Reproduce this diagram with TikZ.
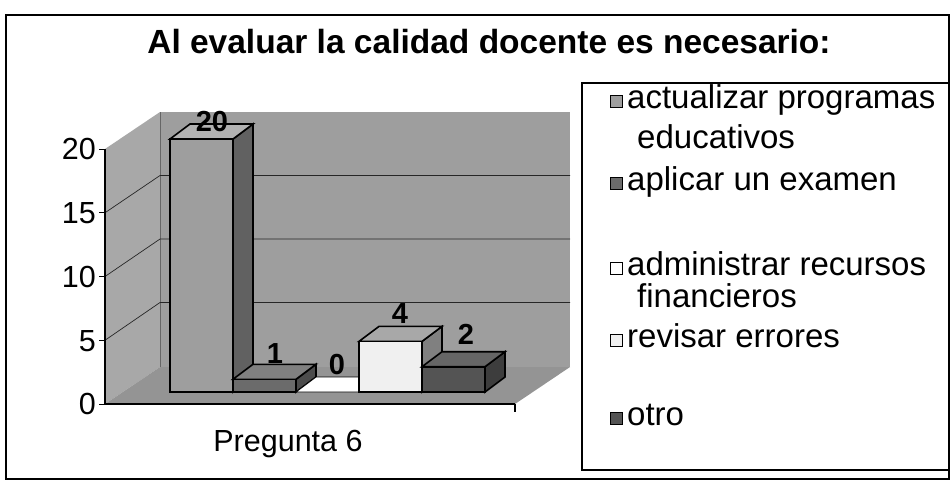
\documentclass[tikz,border=0pt]{standalone}
\usepackage{fontspec}
\setmainfont{Liberation Sans}
\definecolor{wallc}{gray}{0.62}
\definecolor{floorc}{gray}{0.58}
\definecolor{leftwc}{gray}{0.66}
\definecolor{bOneF}{gray}{0.62}
\definecolor{bOneT}{gray}{0.7}
\definecolor{bOneS}{gray}{0.38}
\definecolor{bTwoF}{gray}{0.42}
\definecolor{bTwoT}{gray}{0.5}
\definecolor{bTwoS}{gray}{0.3}
\definecolor{bFourF}{gray}{0.94}
\definecolor{bFourT}{gray}{0.66}
\definecolor{bFourS}{gray}{0.5}
\definecolor{bFiveF}{gray}{0.33}
\definecolor{bFiveT}{gray}{0.4}
\definecolor{bFiveS}{gray}{0.24}
\newcommand{\cubebar}[5]{%
  \filldraw[barline,fill=#5] ({#1+63},392) -- ({#1+83},377) -- ({#1+83},{#2-15}) -- ({#1+63},#2) -- cycle;
  \filldraw[barline,fill=#4] (#1,#2) -- ({#1+63},#2) -- ({#1+83},{#2-15}) -- ({#1+20},{#2-15}) -- cycle;
  \filldraw[barline,fill=#3] (#1,#2) rectangle ({#1+63},392);
}
\begin{document}
\begin{tikzpicture}[x=1pt,y=-1pt,
  barline/.style={draw=black,line width=1.6pt,line join=miter},
  grid/.style={draw=black!85,line width=0.7pt},
  axlab/.style={anchor=base east,inner sep=0pt,font=\fontsize{30.5}{34}\selectfont},
  vlab/.style={anchor=base,inner sep=0pt,font=\bfseries\fontsize{29}{32}\selectfont},
  legtext/.style={anchor=base west,inner sep=0pt,font=\fontsize{33}{37}\selectfont},
  swatch/.style={draw=black,line width=0.8pt}]
\useasboundingbox (0,0) rectangle (952,485);
\fill[white] (0,0) rectangle (952,485);
% outer frame
\draw[line width=1.2pt] (6,15) rectangle (949,479);
% title
\node[anchor=base,inner sep=0pt,font=\bfseries\fontsize{33.5}{37}\selectfont] (title) at (489,53) {Al evaluar la calidad docente es necesario:};
% walls
\fill[wallc] (160,112) rectangle (570,367);
\fill[leftwc] (105,149) -- (160,112) -- (160,367) -- (105,404) -- cycle;
\fill[floorc] (105,404) -- (160,367) -- (570,367) -- (515,404) -- cycle;
\draw[black!60,line width=0.5pt] (160,112) -- (160,367);
% gridlines
\foreach \k in {1,2,3} {
  \draw[grid] (105,{149+\k*63.75}) -- (160,{112+\k*63.5}) -- (570,{112+\k*63.5});
}
% axis
\draw[line width=1.2pt] (105,149) -- (105,404) -- (515,404);
\draw[line width=1.2pt] (515,404) -- (515,412);
\foreach \k in {0,...,4} {
  \draw[line width=1pt] (99,{149+\k*63.75}) -- (105,{149+\k*63.75});
}
\node[axlab] (t20) at (96,{149+10.9}) {20};
\node[axlab] (t15) at (96,{212.75+10.9}) {15};
\node[axlab] (t10) at (96,{276.5+10.9}) {10};
\node[axlab] (t5) at (96,{340.25+10.9}) {5};
\node[axlab] (t0) at (96,{404+10.9}) {0};
% bars
\cubebar{170}{139}{bOneF}{bOneT}{bOneS}
\cubebar{233}{379.3}{bTwoF}{bTwoT}{bTwoS}
\filldraw[fill=white,draw=black,line width=0.8pt] (296,392) -- (359,392) -- (379,377) -- (316,377) -- cycle;
\cubebar{359}{341.4}{bFourF}{bFourT}{bFourS}
\cubebar{422}{366.7}{bFiveF}{bFiveT}{bFiveS}
% value labels
\node[vlab] (v1) at (212,131) {20};
\node[vlab] (v2) at (275,363) {1};
\node[vlab] (v3) at (337,374) {0};
\node[vlab] (v4) at (400,323) {4};
\node[vlab] (v5) at (466,344) {2};
% category label
\node[anchor=base,inner sep=0pt,font=\fontsize{30.5}{34}\selectfont] (cat) at (288,451) {Pregunta 6};
% legend
\draw[line width=1.2pt] (582,83) rectangle (949,470);
\filldraw[swatch,fill=bOneF] (610,95) rectangle (622,107);
\node[legtext] (l1) at (627,108) {actualizar programas};
\node[legtext] (l1b) at (637,148) {educativos};
\filldraw[swatch,fill=bTwoF] (610,177) rectangle (622,189);
\node[legtext] (l2) at (627,190) {aplicar un examen};
\filldraw[swatch,fill=white] (610,262) rectangle (622,274);
\node[legtext] (l3) at (627,275) {administrar recursos};
\node[legtext] (l3b) at (637,307) {financieros};
\filldraw[swatch,fill=bFourF] (610,334) rectangle (622,346);
\node[legtext] (l4) at (627,347) {revisar errores};
\filldraw[swatch,fill=bFiveF] (610,412) rectangle (622,424);
\node[legtext] (l5) at (627,425) {otro};
\end{tikzpicture}
\end{document}
